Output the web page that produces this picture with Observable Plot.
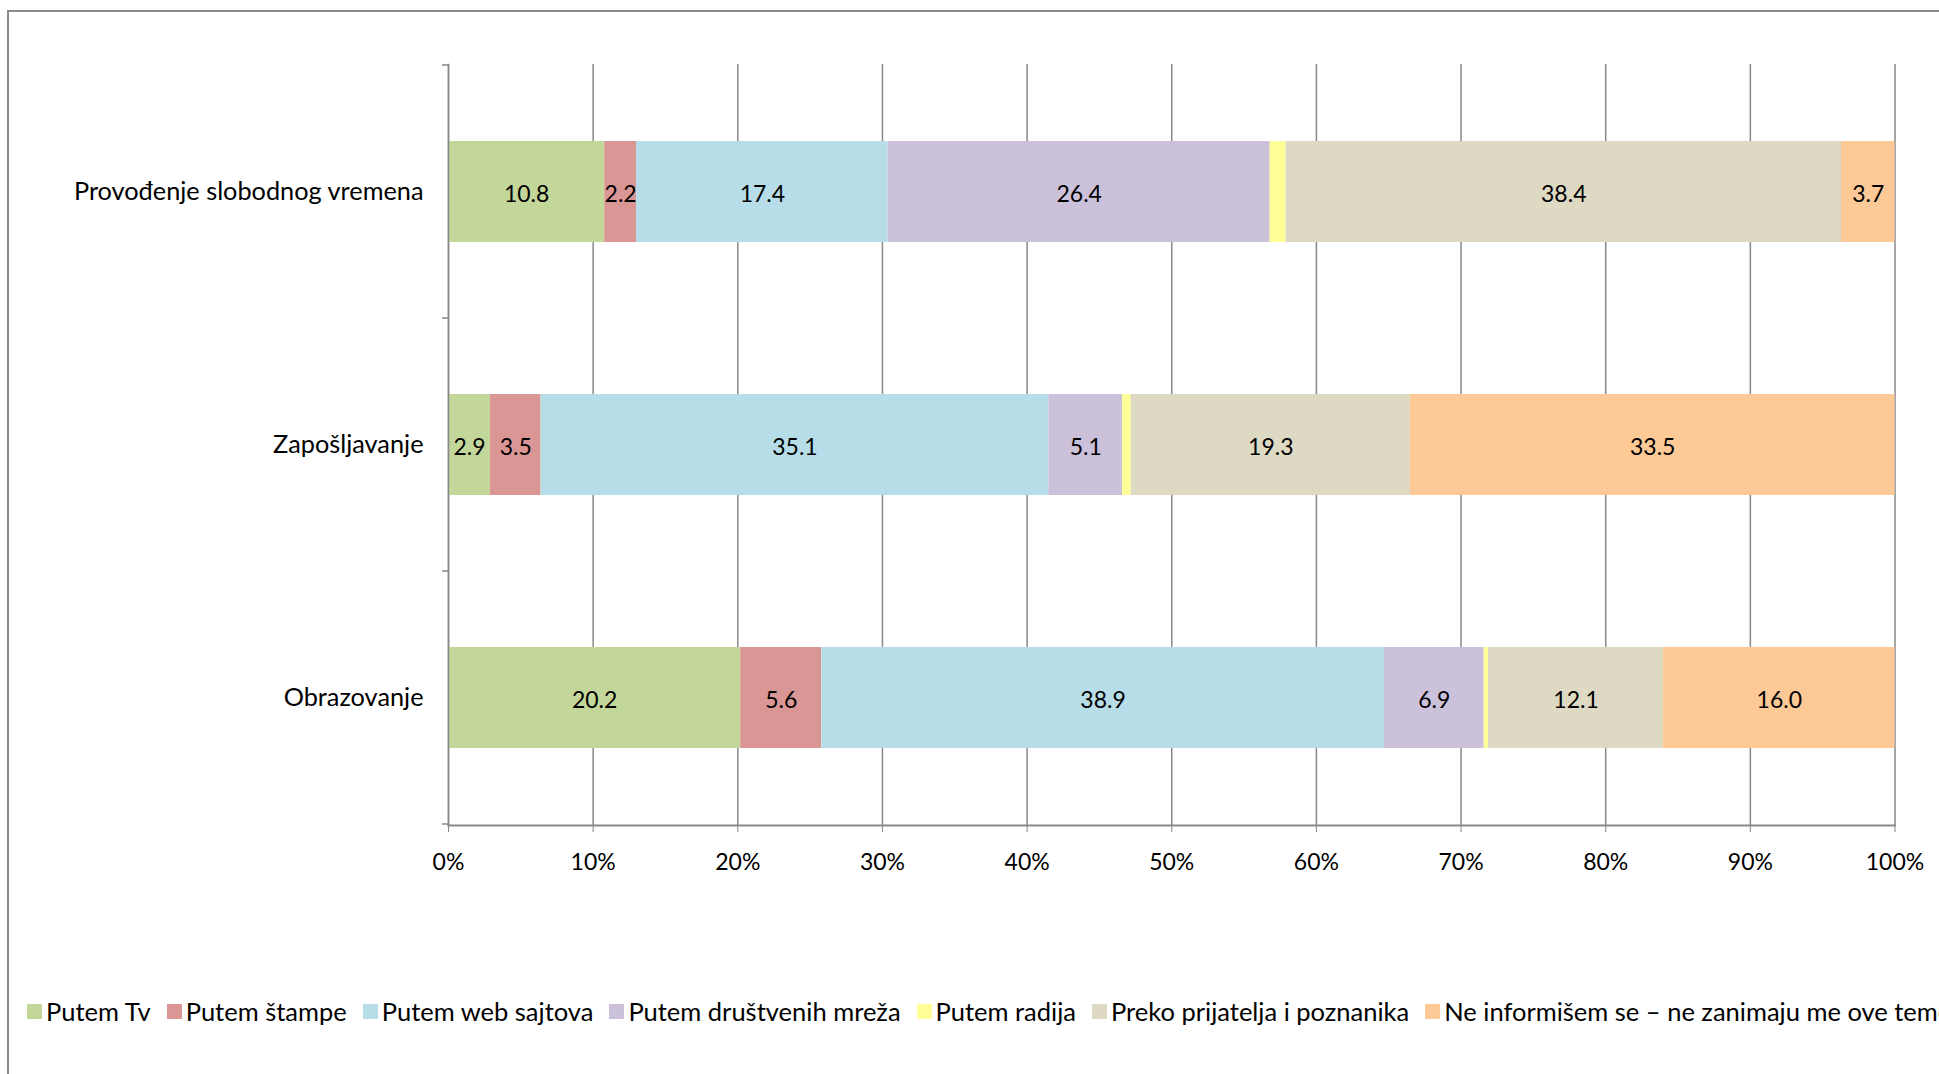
<!DOCTYPE html>
<html><head><meta charset="utf-8">
<script src="https://cdn.jsdelivr.net/npm/d3@7"></script>
<script src="https://cdn.jsdelivr.net/npm/@observablehq/plot@0.6"></script>
<style>
html,body{margin:0;padding:0;width:1939px;height:1074px;overflow:hidden;background:#fff;font-family:Lato,sans-serif;color:#000;}
#frame{position:absolute;left:7px;top:10px;width:2000px;height:1200px;border-left:2px solid #8a8a8a;border-top:2px solid #8a8a8a;}
#chart{position:absolute;left:0;top:0;}
#legend{position:absolute;left:27px;top:996px;white-space:nowrap;font-size:25.5px;display:flex;align-items:center;}
.item{display:inline-flex;align-items:center;margin-right:16px;}
.sw{width:15px;height:15px;margin-right:4px;}
</style></head>
<body>
<div id="frame"></div>
<div id="chart"></div>
<div id="legend"></div>
<script>
const categories = ["Provođenje slobodnog vremena", "Zapošljavanje", "Obrazovanje"];
const seriesNames = ["Putem Tv", "Putem štampe", "Putem web sajtova", "Putem društvenih mreža", "Putem radija", "Preko prijatelja i poznanika", "Ne informišem se – ne zanimaju me ove teme"];
const colors = ["#c4d79b", "#da9694", "#b7dee8", "#ccc1da", "#ffff99", "#ddd9c3", "#fdc996"];
const provodjenje = [10.8, 2.2, 17.4, 26.4, 1.1, 38.4, 3.7];
const zaposljavanje = [2.9, 3.5, 35.1, 5.1, 0.6, 19.3, 33.5];
const obrazovanje = [20.2, 5.6, 38.9, 6.9, 0.3, 12.1, 16.0];
const xTicks = [0, 0.1, 0.2, 0.3, 0.4, 0.5, 0.6, 0.7, 0.8, 0.9, 1];
const unlabeled = "Putem radija";

const rows = [provodjenje, zaposljavanje, obrazovanje];
const data = [];
categories.forEach((c, i) => seriesNames.forEach((s, j) => data.push({category: c, series: s, value: rows[i][j]})));
const fmt = d3.format(".1f");
const gray = "#898989";

const boundaryTicks = (index, scales, values, dimensions) => {
  const y = scales.y;
  const step = y.step ? y.step() : (dimensions.height - dimensions.marginTop - dimensions.marginBottom) / categories.length;
  const bw = y.bandwidth ? y.bandwidth() : step * 0.4;
  const gap = (step - bw) / 2;
  const ys = categories.map(c => y(c) - gap);
  ys.push(y(categories[categories.length - 1]) + bw + gap);
  const x0 = scales.x(0);
  const g = d3.create("svg:g");
  g.selectAll("line").data(ys).join("line")
    .attr("x1", x0 - 6).attr("x2", x0).attr("y1", d => d).attr("y2", d => d)
    .attr("stroke", gray).attr("stroke-width", 1.5);
  return g.node();
};

const chart = Plot.plot({
  width: 1939,
  height: 900,
  marginLeft: 448,
  marginRight: 44.5,
  marginTop: 64,
  marginBottom: 75,
  style: {fontFamily: "Lato, sans-serif", fontSize: "22px", color: "#000", background: "transparent"},
  x: {domain: [0, 1]},
  y: {domain: categories, paddingInner: 0.6, paddingOuter: 0.3},
  color: {domain: seriesNames, range: colors},
  marks: [
    Plot.gridX(xTicks, {stroke: gray, strokeOpacity: 1, strokeWidth: 1.5}),
    Plot.barX(data, Plot.stackX({x: "value", y: "category", fill: "series", order: seriesNames, offset: "normalize"})),
    Plot.text(data, Plot.stackX({x: "value", y: "category", z: "series", order: seriesNames, offset: "normalize",
      text: d => d.series === unlabeled ? null : fmt(d.value), fill: "#000", fontSize: 23, dy: 3})),
    Plot.frame({anchor: "left", stroke: gray, strokeWidth: 1.5}),
    Plot.frame({anchor: "bottom", stroke: gray, strokeWidth: 2}),
    boundaryTicks,
    Plot.axisX({ticks: xTicks, tickFormat: d3.format(".0%"), tickSize: 7, tickPadding: 21, stroke: gray, fontSize: 23, label: null}),
    Plot.axisY({tickSize: 0, tickPadding: 25, fontSize: 25.3, label: null})
  ]
});
document.getElementById("chart").appendChild(chart);

const legend = d3.select("#legend");
seriesNames.forEach((s, i) => {
  const it = legend.append("div").attr("class", "item");
  it.append("div").attr("class", "sw").style("background", colors[i]);
  it.append("span").text(s);
});
</script>
</body></html>
